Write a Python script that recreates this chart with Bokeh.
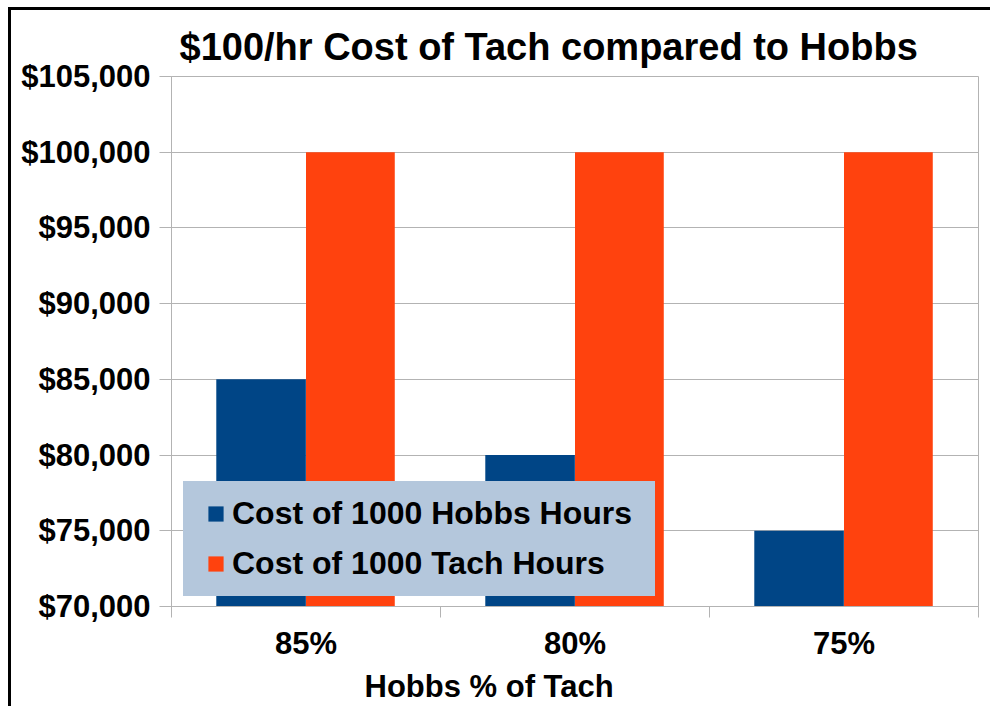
from bokeh.plotting import figure
from bokeh.models import (ColumnDataSource, FixedTicker, NumeralTickFormatter,
                          Legend, LegendItem, Range1d, Title)
from bokeh.transform import dodge
from bokeh.embed import file_html
from bokeh.resources import INLINE

# ---- data ----
categories = ["85%", "80%", "75%"]
hobbs_cost = [85000, 80000, 75000]
tach_cost = [100000, 100000, 100000]
y_ticks = [70000, 75000, 80000, 85000, 90000, 95000, 100000, 105000]

title_text = "$100/hr Cost of Tach compared to Hobbs"
x_label = "Hobbs % of Tach"
series_names = ["Cost of 1000 Hobbs Hours", "Cost of 1000 Tach Hours"]

BLUE = "#004586"
ORANGE = "#ff420e"
GRID = "#b3b3b3"
LEGEND_BG = "#b4c7dc"
FONT = "Liberation Sans"

xpos = [i + 0.5 for i in range(len(categories))]
src = ColumnDataSource(dict(x=xpos, cat=categories, hobbs=hobbs_cost, tach=tach_cost))

p = figure(width=979, height=688, output_backend="svg", toolbar_location=None,
           x_range=Range1d(0, len(categories)), y_range=Range1d(y_ticks[0], y_ticks[-1]),
           title=title_text,
           styles={"border-left": "3px solid black", "border-top": "3px solid black",
                   "margin-left": "8px", "margin-top": "7px"})
p.min_border_left = 160
p.min_border_right = 12
p.min_border_top = 66
p.min_border_bottom = 92
p.frame_width = 807
p.frame_height = 530

p.title.text_font = FONT
p.title.text_font_size = "38px"
p.title.text_font_style = "bold"
p.title.align = "left"
p.title.offset = 8
p.title.standoff = 17
p.title.text_color = "black"

r1 = p.vbar(x=dodge("x", -0.167, range=p.x_range), top="hobbs", bottom=0, width=0.333,
            source=src, fill_color=BLUE, line_color=None)
r2 = p.vbar(x=dodge("x", 0.165, range=p.x_range), top="tach", bottom=0, width=0.33,
            source=src, fill_color=ORANGE, line_color=None)

# y axis
p.yaxis.ticker = FixedTicker(ticks=y_ticks)
p.yaxis.formatter = NumeralTickFormatter(format="$0,0")
p.yaxis.major_label_text_font = FONT
p.yaxis.major_label_text_font_size = "31px"
p.yaxis.major_label_text_font_style = "bold"
p.yaxis.major_label_text_color = "black"
p.yaxis.major_tick_out = 12
p.yaxis.major_tick_in = 0
p.yaxis.minor_tick_out = 0
p.yaxis.minor_tick_in = 0
p.yaxis.major_label_standoff = 9
p.yaxis.axis_line_color = GRID
p.yaxis.major_tick_line_color = GRID

# x axis
p.xaxis.ticker = FixedTicker(ticks=xpos, minor_ticks=list(range(len(categories) + 1)))
p.xaxis.major_label_overrides = {x: c for x, c in zip(xpos, categories)}
p.xaxis.major_tick_out = 0
p.xaxis.major_tick_in = 0
p.xaxis.minor_tick_out = 11
p.xaxis.minor_tick_in = 0
p.xaxis.minor_tick_line_color = GRID
p.xaxis.axis_line_color = GRID
p.xaxis.major_label_text_font = FONT
p.xaxis.major_label_text_font_size = "31px"
p.xaxis.major_label_text_font_style = "bold"
p.xaxis.major_label_text_color = "black"
p.xaxis.major_label_standoff = 8

xt = Title(text=x_label, align="left", offset=193, standoff=6,
           text_font=FONT, text_font_size="31px", text_font_style="bold",
           text_color="black")
p.add_layout(xt, "below")

p.xgrid.visible = False
p.ygrid.grid_line_color = GRID
p.outline_line_color = GRID

legend = Legend(items=[LegendItem(label=series_names[0], renderers=[r1]),
                       LegendItem(label=series_names[1], renderers=[r2])],
                location=(12, 10))
legend.background_fill_color = LEGEND_BG
legend.background_fill_alpha = 1
legend.border_line_color = LEGEND_BG
legend.border_line_width = 1
legend.label_text_font = FONT
legend.label_text_font_size = "32px"
legend.label_text_font_style = "bold"
legend.label_text_color = "black"
legend.glyph_width = 19
legend.glyph_height = 19
legend.label_standoff = 7
legend.padding = (22, 13)
legend.spacing = 13
legend.margin = 0
p.add_layout(legend, "center")

open("out.html", "w").write(file_html(p, INLINE))
